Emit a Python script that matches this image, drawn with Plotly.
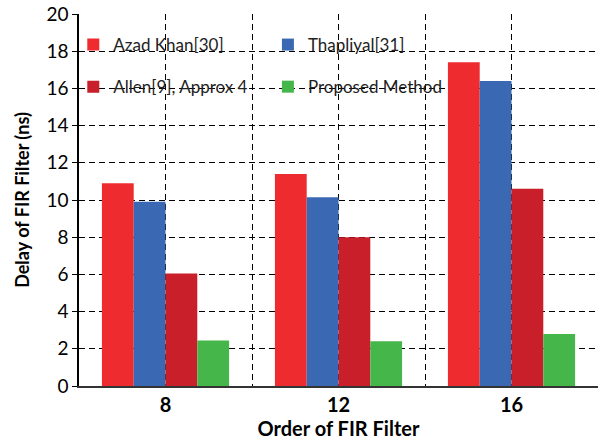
import plotly.graph_objects as go

categories = ["8", "12", "16"]
azad_khan = [10.9, 11.4, 17.4]
thapliyal = [9.9, 10.15, 16.4]
allen = [6.05, 8.0, 10.6]
proposed = [2.45, 2.4, 2.8]
y_ticks = [0, 2, 4, 6, 8, 10, 12, 14, 16, 18, 20]

FONT = "Lato, Roboto, sans-serif"
xpos = list(range(len(categories)))

fig = go.Figure()
series = [
    ("Azad Khan[30]", azad_khan, "#EE2B2E", "legend"),
    ("Thapliyal[31]", thapliyal, "#3B68B2", "legend2"),
    ("Allen[9], Approx 4", allen, "#C91F2B", "legend"),
    ("Proposed Method", proposed, "#45B649", "legend2"),
]
for i, (name, vals, col, lg) in enumerate(series):
    fig.add_trace(go.Bar(x=xpos, y=vals, name=name, marker_color=col,
                         marker_line_width=0, legend=lg, legendgroup="g%d" % i))

leg_common = dict(yanchor="top", xanchor="left", bgcolor="rgba(0,0,0,0)",
                  font=dict(size=17, family=FONT, color="#222"),
                  tracegroupgap=17, itemwidth=30, traceorder="grouped")

fig.update_layout(
    width=598, height=444,
    margin=dict(l=79, r=0, t=14, b=58, autoexpand=False),
    paper_bgcolor="white", plot_bgcolor="white",
    barmode="group", bargap=0.265, bargroupgap=0,
    font=dict(family=FONT, color="black"),
    legend=dict(x=-0.011, y=0.965, **leg_common),
    legend2=dict(x=0.364, y=0.965, **leg_common),
    xaxis=dict(
        range=[-0.5, 2.5], tickvals=xpos, ticktext=["<b>%s</b>" % c for c in categories],
        tickfont=dict(size=20, family=FONT, color="black"),
        showgrid=True, gridcolor="black", griddash="6px,4px", gridwidth=1.3,
        minor=dict(dtick=0.5, tick0=-0.5, showgrid=True, gridcolor="black",
                   griddash="6px,4px", gridwidth=1.3),
        showline=True, linecolor="#333333", linewidth=2,
        ticks="", zeroline=False, automargin=False,
        title=dict(text="<b>Order of FIR Filter</b>", font=dict(size=20, family=FONT),
                   standoff=4),
    ),
    yaxis=dict(
        range=[0, 20], tickvals=y_ticks,
        tickfont=dict(size=19, family=FONT, color="black"),
        showgrid=True, gridcolor="black", griddash="6px,4px", gridwidth=1.3,
        showline=True, linecolor="black", linewidth=1.5,
        ticks="outside", ticklen=5, tickcolor="black",
        zeroline=False, automargin=False,
        title=dict(text="<b>Delay of FIR Filter (ns)</b>", font=dict(size=18, family=FONT),
                   standoff=12),
    ),
)

fig.write_html("out.html", config={"displayModeBar": False},
               post_script="document.body.style.margin='0';document.body.style.overflow='hidden';")
